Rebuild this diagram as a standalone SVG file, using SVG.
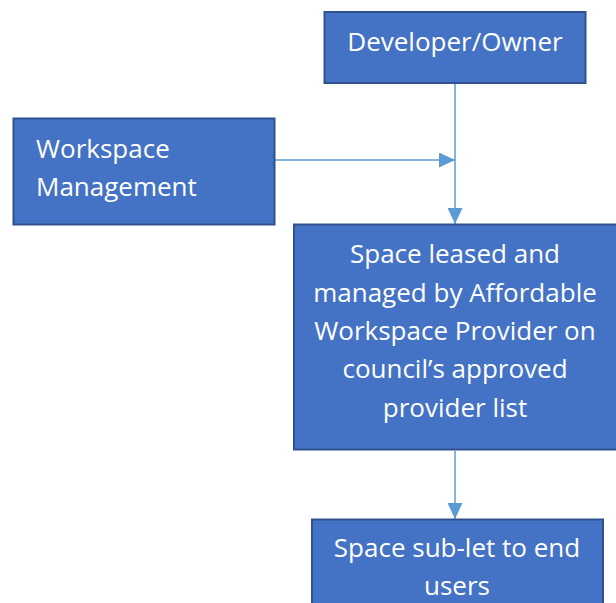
<svg xmlns="http://www.w3.org/2000/svg" width="616" height="603" viewBox="0 0 616 603">
<style>
.box{fill:#4472C4;stroke:#2F528F;stroke-width:2}
.t{font-family:"Open Sans","Noto Sans",sans-serif;font-size:26px;fill:#FFFFFF}
.c{text-anchor:middle}
.con{stroke:#5B9BD5;stroke-width:1.5;fill:none}
</style>
<defs>
<marker id="ah" markerUnits="userSpaceOnUse" markerWidth="16" markerHeight="15" refX="16" refY="7.5" orient="auto">
<path d="M0,0 L16,7.5 L0,15 z" fill="#5B9BD5"/>
</marker>
</defs>
<g id="connectors">
<line class="con" x1="455" y1="84" x2="455" y2="224" marker-end="url(#ah)"/>
<line class="con" x1="275" y1="160" x2="455" y2="160" marker-end="url(#ah)"/>
<line class="con" x1="455" y1="451" x2="455" y2="519" marker-end="url(#ah)"/>
</g>
<g id="developer-owner">
<rect class="box" x="324.5" y="12" width="261" height="71"/>
<text class="t c" x="455" y="51">Developer/Owner</text>
</g>
<g id="workspace-management">
<rect class="box" x="13.5" y="118.5" width="261" height="106"/>
<text class="t" x="36" y="158">Workspace</text>
<text class="t" x="36" y="196">Management</text>
</g>
<g id="affordable-provider">
<rect class="box" x="294" y="224.5" width="324" height="225"/>
<text class="t c" x="455" y="263">Space leased and</text>
<text class="t c" x="455" y="301.5">managed by Affordable</text>
<text class="t c" x="455" y="340">Workspace Provider on</text>
<text class="t c" x="455" y="378">council’s approved</text>
<text class="t c" x="455" y="416.5">provider list</text>
</g>
<g id="end-users">
<rect class="box" x="312" y="519.5" width="291" height="100"/>
<text class="t c" x="457" y="557">Space sub-let to end</text>
<text class="t c" x="457" y="595">users</text>
</g>
</svg>
